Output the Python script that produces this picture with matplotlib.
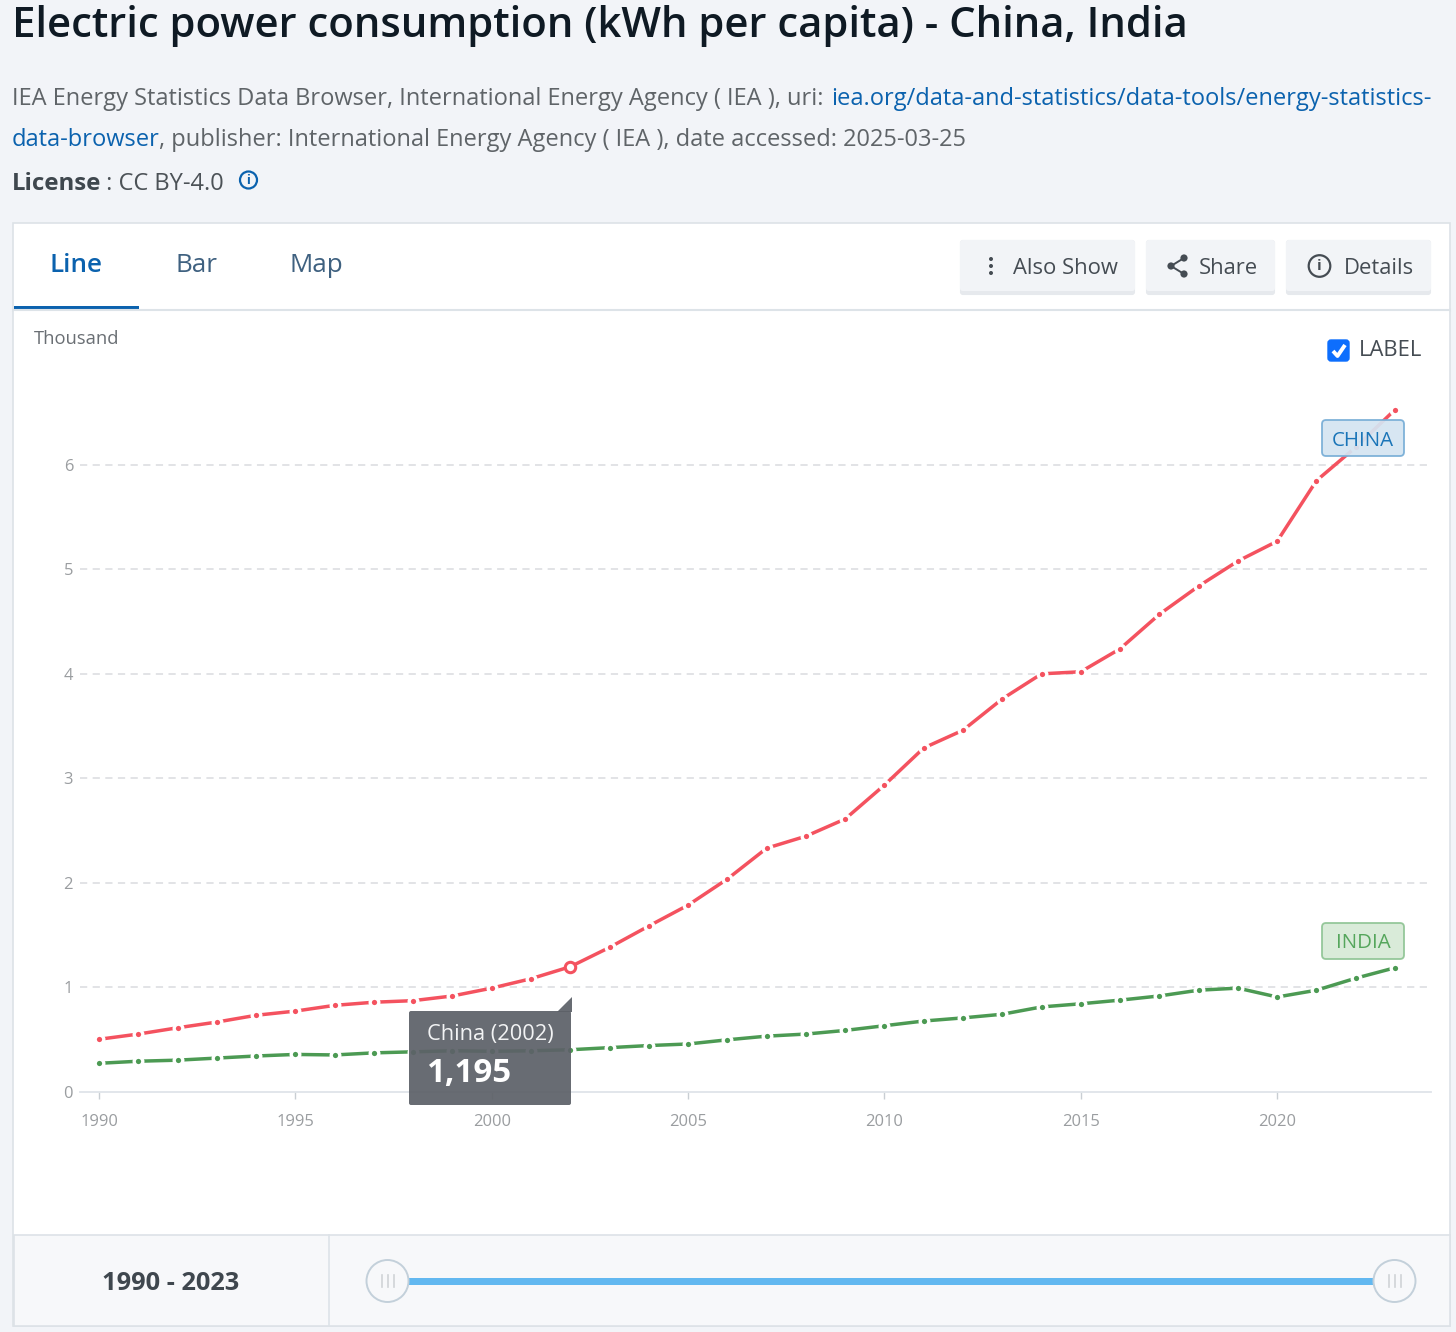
import matplotlib
matplotlib.use("Agg")
import matplotlib.pyplot as plt
from matplotlib.patches import Rectangle, FancyBboxPatch, Circle, Polygon

plt.rcParams['font.family'] = ['Open Sans', 'DejaVu Sans']

years = list(range(1990, 2024))
china = [0.50, 0.55, 0.61, 0.665, 0.73, 0.77, 0.825, 0.855, 0.87, 0.915, 0.99, 1.08, 1.195,
         1.38, 1.585, 1.785, 2.035, 2.33, 2.445, 2.61, 2.935, 3.29, 3.46, 3.76, 4.00, 4.02,
         4.24, 4.57, 4.84, 5.08, 5.27, 5.85, 6.17, 6.53]
india = [0.27, 0.29, 0.30, 0.32, 0.34, 0.355, 0.35, 0.37, 0.38, 0.39, 0.385, 0.39, 0.40,
         0.42, 0.44, 0.455, 0.495, 0.53, 0.55, 0.585, 0.63, 0.675, 0.705, 0.74, 0.81, 0.84,
         0.875, 0.915, 0.97, 0.99, 0.905, 0.97, 1.085, 1.185]
y_ticks = [0, 1, 2, 3, 4, 5, 6]
x_ticks = [1990, 1995, 2000, 2005, 2010, 2015, 2020]
highlight_year = 2002
highlight_value = 1.195

W, H = 1456, 1332
fig = plt.figure(figsize=(W / 100, H / 100), dpi=100, facecolor='#f2f4f8')

bg = fig.add_axes([0, 0, 1, 1], zorder=0)
bg.set_xlim(0, W)
bg.set_ylim(H, 0)
bg.axis('off')

def px(size):
    return size * 0.72

def txt(ax, x, y, s, size, color, weight='normal', ha='left', va='center', **kw):
    return ax.text(x, y + 2, s, fontsize=px(size), color=color, fontweight=weight, ha=ha, va=va, **kw)

txt(bg, 12, 24, 'Electric power consumption (kWh per capita) - China, India', 41.9, '#0f1a24', weight='semibold')
gray = '#5f6468'
link = '#0b62ae'
body = 23.65
txt(bg, 12, 97, 'IEA Energy Statistics Data Browser, International Energy Agency ( IEA ), uri: ', body, gray)
txt(bg, 831, 97, 'iea.org/data-and-statistics/data-tools/energy-statistics-', body, link)
txt(bg, 12, 138, 'data-browser', body, link)
txt(bg, 159, 138, ', publisher: International Energy Agency ( IEA ), date accessed: 2025-03-25', body, gray)
txt(bg, 12, 182, 'License', 24, '#3f474e', weight='bold')
txt(bg, 100, 182, ' : CC BY-4.0', body, '#4c5257')
bg.add_patch(Circle((248.5, 180), 8.5, fc='none', ec=link, lw=1.6))
txt(bg, 248.5, 178, 'i', 13, link, weight='bold', ha='center')

bg.add_patch(Rectangle((13, 223), 1437, 1103, fc='white', ec='#dde2e7', lw=1.2))
bg.plot([13, 1450], [310, 310], color='#dde3e8', lw=1.5)

txt(bg, 76, 263, 'Line', 26, '#0b62ae', weight='semibold', ha='center')
bg.add_patch(Rectangle((14, 305.5), 125, 3.5, fc='#0b62ae', ec='none'))
txt(bg, 196, 263, 'Bar', 26, '#3f6180', ha='center')
txt(bg, 316, 263, 'Map', 26, '#3f6180', ha='center')

for x0, x1 in [(960, 1135), (1146, 1275), (1286, 1431)]:
    bg.add_patch(FancyBboxPatch((x0 + 1, 241), x1 - x0 - 2, 53, boxstyle='round,pad=0,rounding_size=2',
                                fc='#e6e9ed', ec='#e6e9ed', lw=1.5))
    bg.add_patch(FancyBboxPatch((x0 + 1, 241), x1 - x0 - 2, 49, boxstyle='round,pad=0,rounding_size=2',
                                fc='#f2f4f7', ec='#f2f4f7', lw=1.5))
btn = '#454c53'
txt(bg, 1013, 266, 'Also Show', 22, btn)
txt(bg, 1199, 266, 'Share', 22, btn)
txt(bg, 1344, 266, 'Details', 22, btn)
for yy in (259, 266, 273):
    bg.add_patch(Circle((991, yy), 2.0, fc=btn, ec='none'))
bg.plot([1184, 1171, 1184], [258, 266, 274], color=btn, lw=1.4)
for cx, cy in [(1184, 258), (1171, 266), (1184, 274)]:
    bg.add_patch(Circle((cx, cy), 3.6, fc=btn, ec='none'))
bg.add_patch(Circle((1319.5, 266), 10.8, fc='none', ec=btn, lw=1.6))
txt(bg, 1319.5, 264, 'i', 15, btn, weight='bold', ha='center')

txt(bg, 34, 337, 'Thousand', 18.4, '#6a6f74')
bg.add_patch(FancyBboxPatch((1328, 340), 21, 21, boxstyle='round,pad=0,rounding_size=3', fc='#0d6efd', ec='#0d6efd', lw=1))
bg.plot([1333, 1337.5, 1345], [351, 356, 345], color='white', lw=2.8, solid_capstyle='butt')
txt(bg, 1359, 349, 'LABEL', 22, '#454c53')

left, right, top, bottom = 80, 1431, 380, 1091.5
ax = fig.add_axes([left / W, 1 - bottom / H, (right - left) / W, (bottom - top) / H], zorder=1)
ax.patch.set_alpha(0)
x_per_year = (1395 - 99) / 33
y_per_unit = (1091.5 - 465) / 6
ax.set_xlim(1990 - (99 - left) / x_per_year, 1990 + (right - 99) / x_per_year)
ax.set_ylim(0, (bottom - top) / y_per_unit)
for s in ('top', 'left', 'right'):
    ax.spines[s].set_visible(False)
ax.spines['bottom'].set_color('#dfe4e9')
ax.spines['bottom'].set_linewidth(1.3)
ax.set_yticks(y_ticks)
ax.set_xticks(x_ticks)
ax.tick_params(axis='y', length=0, labelsize=px(16.5), labelcolor='#9a9da0', pad=5)
ax.tick_params(axis='x', length=5, width=1, color='#c9ced3', labelsize=px(16.5), labelcolor='#9a9da0', pad=11)
ax.set_axisbelow(True)
ax.grid(axis='y', color='#dfe1e4', lw=1.3, dashes=(4, 3))
ax.yaxis.get_gridlines()[0].set_visible(False)

for values, color in [(china, '#f4525f'), (india, '#4c9a53')]:
    ax.plot(years, values, color=color, lw=2.5, solid_capstyle='butt', zorder=3)
    ax.plot(years, values, ls='none', marker='o', ms=6.2, mfc=color, mec='white', mew=2.4, zorder=4)
ax.plot([highlight_year], [highlight_value], ls='none', marker='o', ms=7.5, mfc='white', mec='#f4525f', mew=2.2, zorder=5)

ov = fig.add_axes([0, 0, 1, 1], zorder=2)
ov.set_xlim(0, W)
ov.set_ylim(H, 0)
ov.axis('off')
ov.patch.set_alpha(0)

ov.add_patch(FancyBboxPatch((1322, 420), 82, 36, boxstyle='round,pad=0,rounding_size=4',
                            fc='#d4e5f2', ec='#77add6', lw=1.3, alpha=0.93))
txt(ov, 1363, 438.5, 'CHINA', 20.5, '#1a75b8', ha='center')
ov.add_patch(FancyBboxPatch((1322, 923), 82, 36, boxstyle='round,pad=0,rounding_size=4',
                            fc='#d6ead6', ec='#8fc494', lw=1.3, alpha=0.93))
txt(ov, 1363, 941.5, 'INDIA', 20.5, '#55a65c', ha='center')

ov.add_patch(FancyBboxPatch((409, 1011), 162, 94, boxstyle='round,pad=0,rounding_size=2',
                            fc='#5d6168', ec='none', alpha=0.93))
ov.add_patch(Polygon([(557, 1012), (572, 997), (572, 1012)], closed=True, fc='#5d6168', ec='none', alpha=0.93))
txt(ov, 427, 1032.5, 'China (2002)', 21.8, '#f2f3f4')
txt(ov, 426, 1072, '1,195', 33, 'white', weight='bold')

ov.add_patch(Rectangle((13.5, 1235), 1436, 91, fc='#f7f8fa', ec='#dde2e7', lw=1.2))
ov.plot([328.5, 328.5], [1235, 1326], color='#dde3e8', lw=1.2)
txt(ov, 171, 1281, '1990 - 2023', 25.4, '#3f474e', weight='bold', ha='center')
ov.add_patch(Rectangle((388, 1277.5), 1006, 7.5, fc='#62b8f0', ec='none'))
for cx in (387.5, 1394.5):
    ov.add_patch(Circle((cx, 1281), 21, fc='#f7f8fa', ec='#c3d0da', lw=1.4, zorder=5))
    for dx in (-6, 0, 6):
        ov.plot([cx + dx, cx + dx], [1275, 1287], color='#d0d3d7', lw=1.2, zorder=6)

fig.savefig('out.png', dpi=100, facecolor=fig.get_facecolor())
